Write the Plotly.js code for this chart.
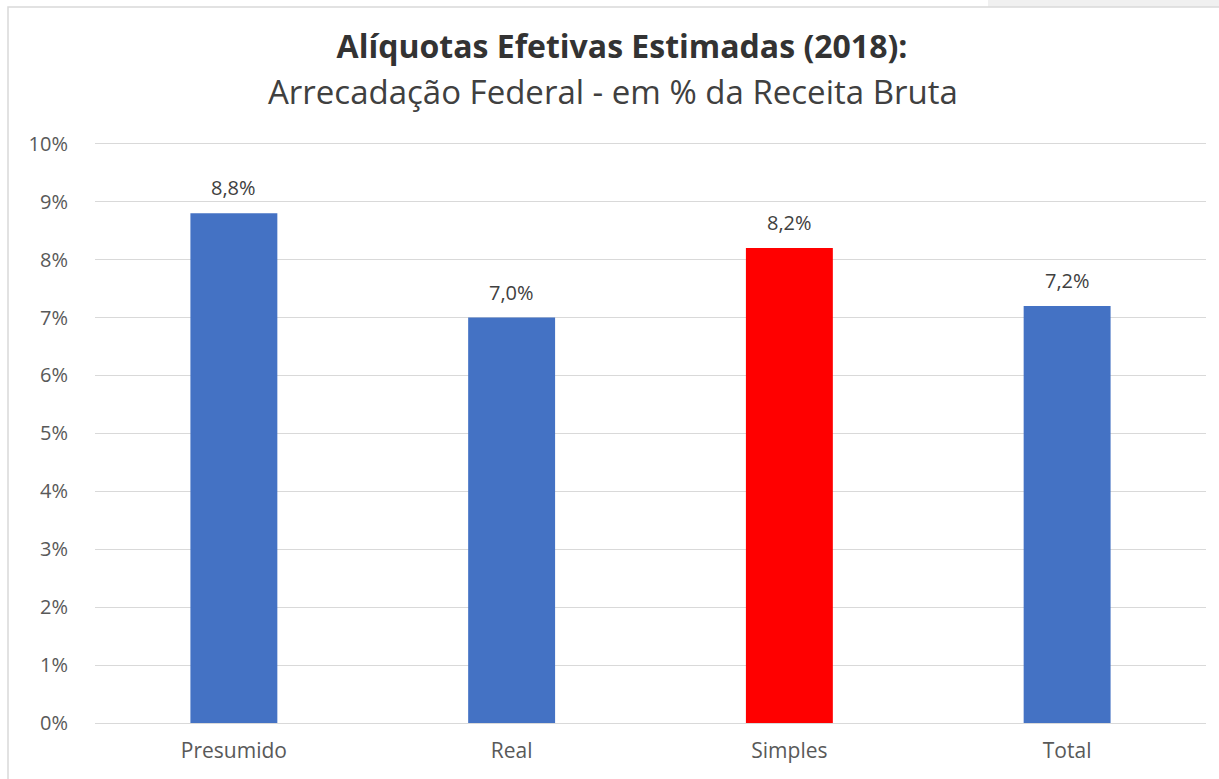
<!DOCTYPE html>
<html>
<head>
<meta charset="utf-8">
<script src="https://cdn.plot.ly/plotly-3.0.1.min.js"></script>
<style>html,body{margin:0;padding:0;background:#fff;}#chart{width:1219px;height:779px;}</style>
</head>
<body>
<div id="chart"></div>
<script>
const categories = ["Presumido", "Real", "Simples", "Total"];
const values = [8.8, 7.0, 8.2, 7.2];
const barColors = ["#4472C4", "#4472C4", "#FF0000", "#4472C4"];
const tickValues = [0, 1, 2, 3, 4, 5, 6, 7, 8, 9, 10];
const titleText = "Alíquotas Efetivas Estimadas (2018):";
const subtitleText = "Arrecadação Federal - em % da Receita Bruta";

const fmt = v => v.toFixed(1).replace(".", ",") + "%";
const FONT = "Open Sans, Noto Sans, sans-serif";

const trace = {
  type: "bar",
  x: categories,
  y: values,
  marker: { color: barColors },
  hoverinfo: "skip"
};

// pixel -> paper helpers for decorative frame
const L = 95, R = 13, T = 142, B = 56, W = 1219, H = 779;
const pw = W - L - R, ph = H - T - B;
const px = p => (p - L) / pw;
const py = p => (H - B - p) / ph;

const annotations = categories.map((c, i) => ({
  x: c, y: values[i], xref: "x", yref: "y",
  text: fmt(values[i]), showarrow: false,
  yanchor: "bottom", yshift: 10,
  font: { family: FONT, size: 20, color: "#404040" }
}));
annotations.push({
  xref: "paper", yref: "paper", x: px(613), y: py(92), xanchor: "center", yanchor: "middle",
  text: subtitleText, showarrow: false,
  font: { family: FONT, size: 33, color: "#404040" }
});

const layout = {
  width: W, height: H,
  margin: { l: L, r: R, t: T, b: B, pad: 0 },
  paper_bgcolor: "#ffffff", plot_bgcolor: "#ffffff",
  separators: ",.",
  showlegend: false,
  bargap: 0.687,
  title: {
    text: "<b>" + titleText + "</b>",
    x: 622 / W, xanchor: "center", xref: "container",
    yref: "container", y: 1 - 47 / H, yanchor: "middle",
    font: { family: FONT, size: 32, color: "#333333" }
  },
  xaxis: {
    type: "category",
    showgrid: false, zeroline: false, showline: false,
    ticks: "",
    tickfont: { family: FONT, size: 21, color: "#595959" },
    ticklabelstandoff: 13
  },
  yaxis: {
    range: [0, 10.03],
    tickvals: tickValues,
    ticktext: tickValues.map(v => v + "%"),
    showgrid: true, gridcolor: "#d9d9d9", gridwidth: 1,
    zeroline: true, zerolinecolor: "#d9d9d9", zerolinewidth: 1,
    showline: false, ticks: "",
    tickfont: { family: FONT, size: 20, color: "#595959" },
    ticklabelstandoff: 26
  },
  annotations: annotations,
  shapes: [
    { type: "rect", xref: "paper", yref: "paper",
      x0: px(988), x1: px(1230), y0: py(7), y1: py(-5),
      fillcolor: "#f0f0f0", line: { width: 0 }, layer: "below" },
    { type: "rect", xref: "paper", yref: "paper",
      x0: px(8), x1: px(1240), y0: py(790), y1: py(7),
      fillcolor: "rgba(0,0,0,0)", line: { color: "#d9d9d9", width: 1.5 }, layer: "above" }
  ]
};

Plotly.newPlot("chart", [trace], layout, { displayModeBar: false, staticPlot: true });
</script>
</body>
</html>
